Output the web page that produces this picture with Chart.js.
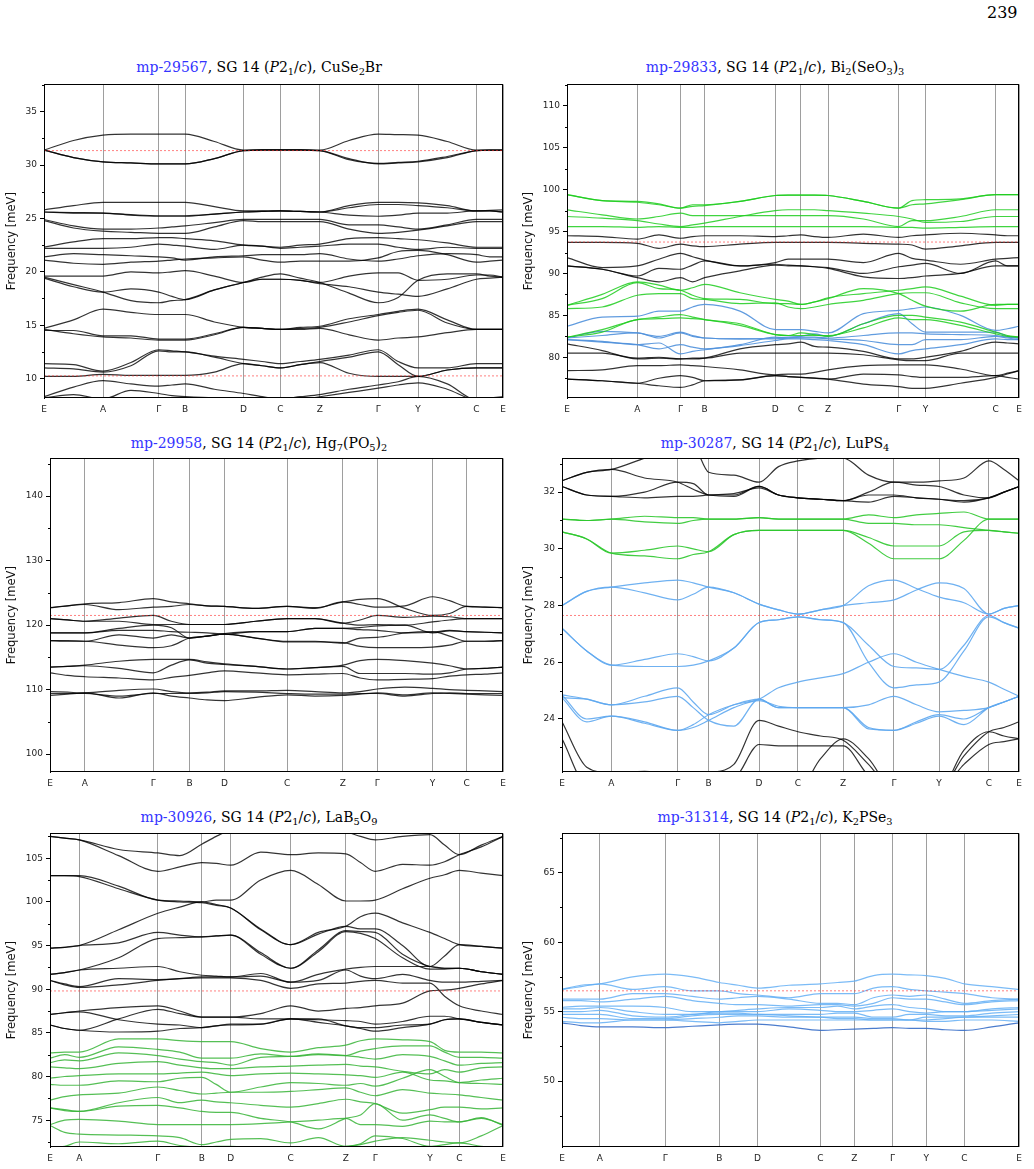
<!DOCTYPE html>
<html>
<head>
<meta charset="utf-8">
<script src="https://cdn.jsdelivr.net/npm/chart.js@4.4.0/dist/chart.umd.min.js"></script>
<style>
  body { margin: 0; background: #fff; }
  #page { position: relative; width: 1034px; height: 1169px; overflow: hidden; background: #fff; }
  canvas { position: absolute; }
  .ttl { position: absolute; width: 520px; text-align: center; font-family: "DejaVu Serif", serif; font-size: 14px; line-height: 16px; color: #000; white-space: nowrap; }
  .ttl .mp { color: #3333ff; }
  .ttl i { font-style: italic; }
  .ttl .sb { font-size: 70%; position: relative; top: 0.35em; }
  #pgnum { position: absolute; left: 987px; top: 4px; font-family: "DejaVu Serif", serif; font-size: 16px; line-height: 18px; }
</style>
</head>
<body>
<div id="page">
  <div id="pgnum">239</div>

  <div class="ttl" style="left:-1px;top:59px"><span class="mp">mp-29567</span>, SG 14 (<i>P</i>2<span class="sb">1</span>/<i>c</i>), CuSe<span class="sb">2</span>Br</div>
  <div class="ttl" style="left:515px;top:59px"><span class="mp">mp-29833</span>, SG 14 (<i>P</i>2<span class="sb">1</span>/<i>c</i>), Bi<span class="sb">2</span>(SeO<span class="sb">3</span>)<span class="sb">3</span></div>
  <div class="ttl" style="left:-1px;top:435px"><span class="mp">mp-29958</span>, SG 14 (<i>P</i>2<span class="sb">1</span>/<i>c</i>), Hg<span class="sb">7</span>(PO<span class="sb">5</span>)<span class="sb">2</span></div>
  <div class="ttl" style="left:515px;top:435px"><span class="mp">mp-30287</span>, SG 14 (<i>P</i>2<span class="sb">1</span>/<i>c</i>), LuPS<span class="sb">4</span></div>
  <div class="ttl" style="left:-1px;top:809px"><span class="mp">mp-30926</span>, SG 14 (<i>P</i>2<span class="sb">1</span>/<i>c</i>), LaB<span class="sb">5</span>O<span class="sb">9</span></div>
  <div class="ttl" style="left:515px;top:809px"><span class="mp">mp-31314</span>, SG 14 (<i>P</i>2<span class="sb">1</span>/<i>c</i>), K<span class="sb">2</span>PSe<span class="sb">3</span></div>

  <canvas id="c1" width="512" height="344" style="left:0px;top:76px"></canvas>
  <canvas id="c2" width="511" height="344" style="left:517px;top:76px"></canvas>
  <canvas id="c3" width="512" height="344" style="left:0px;top:450px"></canvas>
  <canvas id="c4" width="511" height="344" style="left:517px;top:450px"></canvas>
  <canvas id="c5" width="512" height="344" style="left:0px;top:825px"></canvas>
  <canvas id="c6" width="511" height="344" style="left:517px;top:825px"></canvas>
</div>

<script>
// high symmetry path labels (same for every panel)
const kLabels = ['E', 'A', 'Γ', 'B', 'D', 'C', 'Z', 'Γ', 'Y', 'C', 'E'];

// tick positions along the path, fraction of path length
const p1Ticks = [0, 0.1286, 0.25, 0.3075, 0.4346, 0.515, 0.6006, 0.728, 0.8147, 0.9418, 1];
const p2Ticks = [0, 0.1555, 0.251, 0.3044, 0.4606, 0.5175, 0.5774, 0.7336, 0.7927, 0.948, 1];
const p3Ticks = [0, 0.0771, 0.2278, 0.3079, 0.385, 0.5233, 0.6463, 0.722, 0.8443, 0.9192, 1];
const p4Ticks = [0, 0.1081, 0.2531, 0.3208, 0.4311, 0.5162, 0.615, 0.726, 0.8248, 0.9337, 1];
const p5Ticks = [0, 0.0648, 0.238, 0.3348, 0.3988, 0.5313, 0.6528, 0.7176, 0.8384, 0.9032, 1];
const p6Ticks = [0, 0.0829, 0.2257, 0.3439, 0.4275, 0.5652, 0.6395, 0.7231, 0.7967, 0.8803, 1];

// y tick labels
const p1YTicks = [10, 15, 20, 25, 30, 35];
const p2YTicks = [80, 85, 90, 95, 100, 105, 110];
const p3YTicks = [100, 110, 120, 130, 140];
const p4YTicks = [24, 26, 28, 30, 32];
const p5YTicks = [75, 80, 85, 90, 95, 100, 105];
const p6YTicks = [50, 55, 60, 65];

// red dashed reference levels
const p1Ref = [31.35, 10.25];
const p2Ref = [93.75];
const p3Ref = [121.5];
const p4Ref = [27.65];
const p5Ref = [89.8];
const p6Ref = [56.5];

// band frequencies [meV], sampled at each symmetry point and half way between
// order: E . A . Γ . B . D . C . Z . Γ . Y . C . E
const p1Bands = [
  [31.4,32.3,32.8,32.9,32.9,32.9,32.9,32.2,31.4,31.45,31.45,31.45,31.4,32.3,32.9,32.85,32.8,32.2,31.4,31.4,31.4],
  [31.4,30.7,30.3,30.2,30.1,30.1,30.1,30.6,31.35,31.4,31.4,31.4,31.35,30.6,30.1,30.2,30.3,30.7,31.35,31.4,31.4],
  [31.4,30.7,30.3,30.2,30.1,30.1,30.1,30.6,31.35,31.4,31.4,31.4,31.35,30.5,30.15,30.25,30.35,30.8,31.35,31.4,31.4],
  [25.8,26.2,26.5,26.5,26.5,26.5,26.5,26.1,25.7,25.7,25.7,25.65,25.6,26.2,26.5,26.5,26.45,26.2,25.7,25.75,25.8],
  [25.6,25.5,25.5,25.3,25.2,25.2,25.2,25.4,25.6,25.65,25.7,25.65,25.6,25.3,25.2,25.3,25.5,25.5,25.7,25.7,25.6],
  [25.6,25.55,25.5,25.35,25.25,25.25,25.25,25.4,25.6,25.65,25.7,25.65,25.6,26.0,26.3,26.3,26.2,26.0,25.7,25.7,25.6],
  [24.9,24.3,24.0,24.0,24.1,24.2,24.3,24.6,24.9,24.9,24.9,24.9,24.9,24.4,24.4,24.2,24.0,24.4,24.9,24.9,24.9],
  [24.8,24.1,23.8,23.7,23.6,23.6,23.6,24.2,24.8,24.7,24.7,24.7,24.7,24.0,23.6,23.7,23.9,24.3,24.7,24.7,24.7],
  [22.3,22.8,23.1,23.1,23.2,23.2,23.1,22.9,22.5,22.4,22.3,22.5,22.6,23.1,23.2,23.1,23.0,22.7,22.3,22.3,22.3],
  [22.2,22.2,22.2,22.3,22.6,22.5,22.4,22.1,22.5,22.4,22.2,22.3,22.4,22.6,22.6,22.3,22.1,22.3,22.2,22.2,22.2],
  [21.4,21.7,21.6,21.5,21.4,21.3,21.1,21.4,21.5,21.6,21.6,21.6,21.7,21.2,21.0,21.2,21.5,21.7,21.6,21.4,21.4],
  [21.1,20.8,20.7,20.9,21.0,21.1,21.2,21.3,21.4,21.1,20.9,21.0,21.0,21.0,21.3,21.9,22.0,21.6,20.9,21.0,21.1],
  [19.6,19.6,19.6,20.0,19.9,20.0,20.1,19.6,19.0,19.3,19.3,19.2,19.0,19.6,19.9,19.9,19.2,19.3,19.7,19.7,19.5],
  [19.5,18.8,18.1,17.3,17.1,17.3,17.4,18.3,19.0,19.5,19.8,19.4,19.0,18.0,17.1,17.6,19.2,19.8,19.8,19.6,19.5],
  [19.4,18.6,18.1,18.4,18.1,17.7,17.4,18.3,19.0,19.3,19.3,19.2,18.9,18.6,18.1,17.9,17.7,18.4,19.3,19.4,19.5],
  [14.7,15.5,16.5,16.2,16.0,16.0,16.0,15.3,14.8,14.7,14.6,14.8,14.9,15.6,16.0,16.3,16.5,15.5,14.6,14.6,14.6],
  [14.6,14.2,13.9,13.8,13.6,13.6,13.6,14.1,14.8,14.7,14.6,14.6,14.7,14.1,13.6,13.8,13.9,14.3,14.6,14.6,14.6],
  [14.5,14.5,14.0,14.0,13.7,13.7,13.7,14.2,14.8,14.7,14.6,14.7,14.8,15.3,15.9,16.2,16.4,15.2,14.6,14.6,14.6],
  [11.4,11.3,10.7,11.5,12.7,12.6,12.5,12.1,11.8,11.6,11.4,11.6,11.8,12.2,12.7,11.6,11.0,11.0,11.4,11.4,11.4],
  [11.0,10.9,10.6,11.2,12.6,12.5,12.5,12.0,11.4,11.2,11.0,11.3,11.6,12.0,12.5,11.3,10.2,10.8,11.0,11.0,11.0],
  [10.2,10.2,10.4,10.3,10.3,10.3,10.3,10.6,11.4,11.2,11.0,11.3,11.5,10.5,10.2,10.2,10.2,10.8,11.0,11.0,11.0],
  [8.3,9.2,9.8,9.5,9.3,9.4,9.5,9.0,8.6,8.3,8.1,8.3,8.5,9.0,9.4,9.7,10.2,9.5,8.0,8.2,8.3],
  [8.2,8.5,8.1,8.9,8.6,8.4,8.3,8.2,8.2,8.0,7.8,8.0,8.3,8.7,9.1,9.4,9.6,9.0,8.0,8.0,8.2]
];

const p2Green = [
  [99.4,98.7,98.6,98.3,97.8,98.2,98.2,98.6,99.3,99.35,99.35,99.35,99.3,98.6,97.8,98.7,98.8,98.9,99.4,99.4,99.4],
  [99.4,98.7,98.5,98.2,97.8,98.0,98.1,98.6,99.3,99.35,99.35,99.35,99.3,98.6,97.8,98.2,98.3,98.8,99.4,99.4,99.4],
  [97.6,97.0,96.5,96.8,97.2,96.9,96.9,96.9,96.9,96.9,96.9,96.9,96.9,96.5,95.6,96.3,96.3,96.8,97.6,97.6,97.6],
  [96.8,96.6,96.3,95.9,95.6,95.8,96.0,96.8,97.5,97.6,97.6,97.6,97.5,97.2,96.8,96.5,96.1,96.2,96.8,96.8,96.8],
  [95.6,95.6,95.5,95.6,95.5,95.5,95.6,95.6,95.6,95.6,95.6,95.6,95.6,95.6,95.5,95.5,95.4,95.5,95.6,95.6,95.6],
  [86.2,87.5,89.0,88.6,88.0,88.3,88.7,87.7,86.9,86.7,86.3,86.6,87.1,87.6,88.0,88.2,88.4,87.3,86.2,86.3,86.3],
  [85.8,86.0,87.4,87.6,87.6,87.0,86.9,86.4,86.5,86.0,85.8,86.0,86.3,86.8,87.6,87.7,87.7,86.5,85.8,85.8,85.8],
  [86.2,87.0,88.9,88.2,88.0,87.4,87.0,86.9,86.4,86.4,86.3,86.6,87.0,88.2,87.6,86.8,86.1,85.5,86.3,86.3,86.3],
  [82.4,83.3,84.5,84.8,85.1,84.8,84.5,84.0,82.7,82.6,82.9,82.7,82.5,84.0,85.0,85.0,84.8,84.2,83.0,82.6,82.4],
  [82.4,83.0,84.5,84.6,84.7,84.6,84.5,83.8,82.7,82.6,82.6,82.6,82.6,83.5,84.7,84.5,84.5,83.8,82.8,82.5,82.4]
];
const p2Black = [
  [94.5,94.4,94.1,94.6,94.2,94.4,94.5,94.5,94.4,94.5,94.6,94.4,94.3,94.7,94.3,94.5,94.6,94.8,94.6,94.5,94.5],
  [93.7,93.7,93.6,93.0,93.5,93.3,93.2,93.5,93.7,93.7,93.7,93.7,93.7,93.6,93.5,93.4,92.9,93.3,93.7,93.7,93.7],
  [91.9,90.7,90.9,91.7,92.4,92.0,91.6,90.9,91.3,91.7,91.7,91.7,91.7,91.3,92.4,91.8,91.6,91.1,91.7,91.8,91.9],
  [90.9,90.5,89.7,90.6,90.5,91.0,91.5,90.9,91.1,91.0,90.9,90.8,90.7,90.0,90.8,91.0,91.2,90.0,91.5,90.9,90.9],
  [90.9,90.5,89.5,89.0,89.5,89.0,89.5,90.3,91.0,90.9,90.9,90.8,90.6,89.6,89.4,89.5,89.7,90.0,90.9,90.9,90.9],
  [81.6,80.8,79.8,79.9,79.8,79.8,79.9,81.0,81.5,81.6,81.8,81.3,81.2,80.7,79.8,79.8,80.0,80.7,81.8,81.7,81.6],
  [80.5,80.5,79.9,80.0,79.8,79.9,79.9,80.5,80.5,80.5,80.5,80.5,80.5,80.3,79.7,79.6,79.6,80.5,80.5,80.5,80.5],
  [78.4,78.5,79.0,79.0,79.1,79.0,78.9,78.5,77.9,78.0,78.0,78.2,78.5,79.0,79.1,79.1,79.1,78.6,77.8,78.1,78.4],
  [77.4,77.2,76.9,77.5,77.8,77.6,77.2,77.3,77.8,77.7,77.6,77.5,77.4,78.0,77.9,77.7,77.6,77.6,77.8,77.6,77.4],
  [77.4,77.2,76.9,76.6,76.4,76.7,77.2,77.3,77.8,77.7,77.6,77.5,77.4,76.8,76.5,76.3,76.3,76.9,77.6,78.0,78.4]
];
const p2Blue = [
  [83.7,84.8,84.9,85.5,85.5,86.0,86.3,85.5,83.3,83.3,83.3,83.1,82.9,85.2,85.6,85.8,86.0,85.0,83.2,83.4,83.7],
  [82.3,83.1,82.9,82.5,83.0,82.6,82.3,82.2,82.3,82.4,82.5,82.8,82.5,84.0,85.2,84.0,83.0,83.0,83.0,82.5,82.3],
  [82.1,81.8,81.5,81.0,81.5,81.2,81.0,81.5,82.4,82.3,82.3,82.3,82.2,82.0,81.5,81.5,82.1,82.1,82.5,82.3,82.1],
  [82.1,81.9,81.5,81.7,80.4,80.7,80.9,81.4,82.0,82.2,82.2,82.1,82.0,81.5,80.4,80.8,81.0,81.5,82.2,82.1,82.1],
  [82.3,82.6,82.9,82.3,82.9,82.5,82.3,82.2,82.2,82.3,82.4,82.4,82.3,82.6,82.9,82.9,82.8,82.7,82.6,82.4,82.3]
];

const p3Bands = [
  [122.7,123.0,123.2,122.4,122.8,122.9,123.2,123.0,122.9,122.6,122.9,122.6,123.6,123.2,122.8,123.0,124.4,123.8,122.9,122.8,122.7],
  [122.7,123.0,123.3,123.5,124.1,123.6,123.3,123.0,122.9,122.6,122.9,122.7,123.6,124.0,124.1,122.6,121.5,121.8,122.9,122.8,122.7],
  [121.0,120.8,120.6,121.1,121.5,120.6,120.1,120.1,120.1,120.6,121.0,121.0,120.3,120.8,121.5,121.2,121.4,121.3,121.0,121.0,121.0],
  [121.0,120.8,120.6,120.6,120.1,120.1,120.1,120.1,120.1,120.6,121.0,121.0,120.3,120.0,120.1,120.0,120.5,120.8,121.0,121.0,121.0],
  [118.8,118.8,118.8,119.2,119.2,119.0,118.9,118.8,118.6,119.0,119.0,119.5,119.5,119.6,119.9,120.0,118.8,119.1,119.0,118.9,118.8],
  [118.8,118.8,118.8,119.5,120.0,119.6,118.0,118.3,118.7,119.0,119.0,119.5,119.5,119.3,119.2,118.8,118.9,119.2,119.0,118.9,118.8],
  [117.6,117.6,117.5,118.5,118.0,118.5,118.0,118.3,118.6,118.0,117.5,117.5,117.2,118.0,118.1,118.8,119.0,118.3,117.5,117.5,117.6],
  [117.6,117.5,117.5,116.9,116.5,116.8,118.0,118.3,118.6,118.0,117.4,117.4,117.3,116.7,116.5,116.5,116.6,116.9,117.5,117.5,117.6],
  [113.5,113.6,113.8,114.4,114.7,114.7,114.7,114.3,114.0,113.6,113.2,113.4,113.8,114.5,114.7,114.5,114.1,113.7,113.2,113.3,113.5],
  [113.5,113.6,113.7,113.3,112.6,113.8,114.6,114.1,113.9,113.6,113.2,113.4,113.6,112.5,112.5,112.5,112.4,112.6,113.2,113.3,113.5],
  [112.6,112.2,112.0,111.8,111.5,111.9,112.2,112.6,112.9,112.6,112.3,112.4,112.5,111.8,111.5,111.6,111.7,112.1,112.3,112.4,112.6],
  [109.7,109.6,109.5,109.9,110.1,109.7,109.5,109.6,109.8,109.8,109.9,109.7,109.5,109.7,110.1,110.4,110.2,110.0,109.9,109.8,109.7],
  [109.1,109.3,109.5,108.7,109.5,109.0,108.7,108.4,108.3,108.8,109.2,109.0,109.1,109.3,109.5,109.2,109.5,109.4,109.3,109.2,109.1],
  [109.4,109.4,109.4,109.0,109.4,109.4,109.4,109.5,109.7,109.6,109.4,109.3,109.3,109.4,109.4,109.0,109.4,109.5,109.4,109.4,109.4]
];

const p4Black = [
  [32.4,32.7,32.8,33.2,33.6,33.6,32.7,32.6,32.35,32.9,33.1,33.2,33.2,32.6,32.35,32.35,32.4,32.5,33.1,32.8,32.4],
  [32.4,32.7,32.8,32.5,32.35,32.1,31.9,31.85,32.2,31.9,31.8,31.75,31.7,32.0,32.35,32.25,32.2,31.9,31.8,32.0,32.2],
  [32.2,31.9,31.85,32.0,32.35,32.3,31.9,31.9,32.2,31.9,31.8,31.75,31.7,31.9,31.9,31.8,31.75,31.7,31.8,32.0,32.2],
  [32.2,31.9,31.85,31.8,31.85,31.85,31.9,31.95,32.15,31.9,31.8,31.75,31.7,31.65,31.85,31.8,31.75,31.65,31.8,32.0,32.2],
  [23.9,22.3,22.1,22.15,22.0,22.0,22.1,22.4,23.95,23.75,23.55,23.4,23.25,22.4,21.5,21.5,21.5,22.7,23.55,23.7,23.9],
  [23.3,21.7,21.8,21.8,21.8,21.8,21.8,21.9,23.1,23.05,23.05,23.05,23.05,22.0,21.5,21.5,21.5,22.4,23.1,23.2,23.3],
  [21.5,21.5,21.5,21.5,21.5,21.5,21.5,21.5,21.5,21.5,21.5,22.6,23.3,22.6,21.5,21.5,21.5,22.9,23.55,23.4,23.3]
];
const p4Green = [
  [31.05,31.0,31.05,31.15,31.1,31.1,31.05,31.05,31.1,31.05,31.05,31.05,31.05,31.2,31.1,31.2,31.25,31.3,31.05,31.05,31.05],
  [31.05,31.0,31.05,30.95,30.9,31.0,31.05,31.05,31.1,31.05,31.05,31.05,31.05,30.9,30.9,30.85,30.85,30.75,30.65,30.6,30.55],
  [30.6,30.35,29.85,29.95,30.1,30.0,29.9,30.5,30.65,30.65,30.65,30.65,30.65,30.4,30.1,30.1,30.1,30.6,30.65,30.6,30.55],
  [30.6,30.35,29.85,29.75,29.65,29.8,29.9,30.5,30.65,30.65,30.65,30.65,30.65,30.2,29.65,29.65,29.65,30.3,31.05,31.05,31.05]
];
const p4Blue = [
  [28.0,28.5,28.65,28.8,28.9,28.8,28.65,28.45,28.05,27.85,27.7,27.85,28.0,28.7,28.9,28.6,28.3,28.1,27.7,27.9,28.0],
  [28.0,28.5,28.65,28.45,28.2,28.4,28.65,28.45,28.05,27.85,27.7,27.85,28.0,28.1,28.2,28.55,28.8,28.6,27.7,27.9,28.0],
  [27.2,26.4,25.9,26.1,26.3,26.2,26.05,26.5,27.4,27.5,27.6,27.5,27.4,26.0,25.1,25.2,25.3,26.4,27.6,27.4,27.2],
  [27.2,26.4,25.9,25.85,25.85,25.9,26.05,26.5,27.4,27.5,27.6,27.5,27.4,26.6,25.85,25.8,25.75,26.6,27.65,27.4,27.2],
  [24.85,24.7,24.5,24.8,25.1,24.6,24.15,24.5,24.7,25.1,25.3,25.45,25.6,26.0,26.3,26.0,25.75,25.5,25.3,25.05,24.8],
  [24.75,24.7,24.5,24.6,24.8,24.4,23.95,23.75,24.7,24.4,24.4,24.4,24.4,24.5,24.8,24.5,24.25,24.3,24.4,24.6,24.8],
  [24.75,23.9,24.1,23.85,23.6,23.8,24.15,24.5,24.7,24.4,24.4,24.4,24.4,23.7,23.6,23.85,24.1,23.8,24.4,24.6,24.8],
  [24.85,24.0,24.1,23.9,23.6,23.7,23.95,24.4,24.65,24.45,24.4,24.4,24.4,23.65,23.6,23.9,24.15,24.0,24.4,24.6,24.8]
];

const p5Black = [
  [107.5,107.3,107.1,106.0,105.6,105.3,106.6,107.5,108.2,108.5,108.5,108.3,108.0,107.5,107.1,107.5,107.7,106.5,105.4,106.5,107.5],
  [107.5,107.3,107.1,105.3,103.5,104.0,104.5,104.4,104.2,105.7,105.4,105.6,105.5,104.5,103.5,104.3,104.2,104.6,105.4,106.3,107.5],
  [103.0,103.0,103.0,101.8,100.2,100.1,100.0,100.2,100.2,102.5,103.6,102.0,100.1,100.1,100.2,101.5,102.7,103.1,103.6,103.3,103.0],
  [103.0,103.0,102.9,101.5,100.2,100.0,99.9,99.6,99.3,96.8,95.1,96.5,97.2,98.3,98.7,97.6,96.5,95.8,95.1,94.9,94.7],
  [94.7,94.8,95.0,96.8,98.7,99.4,100.0,99.7,99.3,96.9,95.1,96.3,97.2,96.9,96.9,95.0,92.6,93.8,95.1,94.9,94.7],
  [94.7,94.8,95.0,95.3,96.5,96.2,96.0,96.1,96.2,94.0,92.4,94.5,96.7,96.6,96.5,94.0,92.6,92.4,92.4,92.0,91.7],
  [91.7,91.9,92.2,93.6,95.8,95.9,96.0,96.1,96.2,94.2,92.4,94.3,96.6,96.4,95.8,93.6,92.3,92.3,92.4,92.0,91.7],
  [91.7,91.9,92.2,92.4,92.6,92.0,91.6,91.5,91.4,91.8,90.8,91.7,92.3,92.5,92.6,92.6,92.6,92.4,92.4,92.0,91.7],
  [91.0,90.6,90.3,91.2,91.1,91.2,91.4,91.4,91.4,91.5,90.8,91.0,92.2,91.5,91.2,91.7,91.0,90.8,90.8,90.9,91.0],
  [91.0,90.5,90.2,90.5,91.0,91.2,91.3,91.3,91.3,91.0,90.1,90.6,90.7,90.9,91.0,90.7,90.7,89.2,88.1,87.5,87.1],
  [87.1,87.3,87.5,87.9,88.1,87.5,86.8,86.8,86.8,87.2,88.1,87.5,87.8,87.9,88.1,88.4,89.8,89.9,90.1,90.6,91.0],
  [87.1,87.3,87.4,86.5,86.0,85.9,85.6,85.8,86.0,86.0,86.6,86.5,86.4,86.3,86.0,86.3,86.9,86.9,86.6,86.2,85.9],
  [85.9,85.5,85.3,86.6,87.7,87.2,86.8,86.8,86.8,86.6,86.6,86.6,85.8,85.6,85.6,85.9,86.0,86.5,86.6,86.2,85.9],
  [85.9,85.5,85.3,85.1,85.2,85.5,85.6,85.8,85.9,86.0,86.6,86.2,85.8,85.5,85.2,85.6,86.0,86.5,86.6,86.2,85.9]
];
const p5Green = [
  [82.7,82.8,82.8,84.3,84.3,84.1,84.0,84.0,84.0,83.2,82.8,83.3,83.6,84.1,84.3,84.2,84.0,83.0,82.8,82.8,82.7],
  [82.1,82.5,82.2,83.4,83.1,82.8,82.1,82.1,82.1,82.6,82.3,82.5,82.4,82.9,83.2,83.5,83.5,82.8,82.2,82.2,82.1],
  [81.6,81.9,81.8,82.7,82.4,82.0,81.7,81.6,81.3,82.2,82.3,82.6,82.4,82.2,82.0,82.5,82.3,81.8,81.3,81.5,81.6],
  [81.1,81.0,80.9,81.5,81.7,81.3,81.0,80.9,80.9,81.1,81.2,81.3,81.4,81.2,81.1,80.6,80.3,80.8,80.5,81.0,81.1],
  [79.8,80.0,80.1,80.3,80.3,80.4,80.5,80.3,80.1,80.3,80.4,80.3,80.2,80.1,79.9,80.5,79.6,79.5,79.3,79.6,79.8],
  [79.1,79.0,79.0,79.5,79.4,79.8,79.9,79.1,78.2,78.8,79.3,79.2,79.0,79.2,78.9,79.8,80.8,80.0,79.3,79.2,79.1],
  [77.3,77.7,77.9,78.1,78.8,78.4,78.0,78.1,78.2,78.2,78.3,78.5,78.7,78.2,77.8,78.5,78.1,78.0,77.9,77.6,77.3],
  [76.4,76.2,76.0,77.0,77.6,77.0,77.3,77.1,77.0,76.7,76.5,76.9,77.4,77.1,76.9,75.8,76.2,76.5,76.5,76.3,76.4],
  [76.4,76.1,76.0,76.6,76.7,76.4,76.0,75.9,75.9,75.2,74.8,74.0,75.2,75.6,76.9,75.0,75.6,75.2,74.8,75.2,74.5],
  [74.5,75.0,75.1,74.9,74.5,74.5,74.5,74.5,74.5,74.6,74.8,75.0,75.2,74.5,74.5,74.3,74.9,74.8,74.8,75.3,74.4],
  [74.4,73.6,73.4,73.3,73.2,73.0,72.2,72.5,72.8,72.9,72.4,73.0,72.0,72.2,72.6,73.0,72.7,72.5,72.4,73.2,74.4],
  [71.8,72.0,72.5,72.3,72.6,72.1,71.9,72.0,72.0,71.8,71.8,71.9,72.0,72.3,73.2,72.9,72.0,72.2,72.4,72.0,71.8]
];

const p6Blue = [
  [56.6,56.9,57.0,57.5,57.7,57.5,57.1,56.9,56.7,56.9,57.0,57.1,57.2,57.6,57.7,57.65,57.6,57.4,57.0,56.8,56.6],
  [56.6,56.8,57.0,56.6,56.8,56.5,56.5,56.3,56.2,56.0,56.3,56.3,56.3,56.7,56.8,56.6,56.5,56.4,56.3,56.0,55.9],
  [55.9,55.9,55.9,56.3,56.3,56.1,55.9,56.0,56.1,55.9,55.6,55.6,55.5,56.0,56.2,56.1,56.2,55.9,55.6,55.8,55.9],
  [55.8,55.8,55.7,55.9,56.1,55.8,55.6,55.5,55.5,55.4,55.5,55.5,55.4,55.6,56.0,55.9,55.9,55.7,55.5,55.7,55.8],
  [55.3,55.4,55.4,55.4,55.3,55.0,55.0,55.1,55.2,55.3,55.3,55.4,55.2,55.4,55.5,55.3,55.2,55.0,55.0,55.2,55.3],
  [55.2,55.2,55.3,55.0,54.8,54.8,55.0,55.0,55.0,55.2,55.1,55.0,55.0,55.1,55.2,55.0,54.9,55.0,55.0,55.1,55.2],
  [55.0,55.0,55.1,54.7,54.6,54.8,54.9,54.9,54.8,54.8,54.8,54.9,54.9,54.6,54.6,54.8,54.8,54.7,54.7,54.9,55.0],
  [54.8,54.8,54.8,54.5,54.5,54.7,54.8,54.8,54.8,54.7,54.6,54.6,54.6,54.5,54.5,54.4,54.6,54.6,54.6,54.7,54.8],
  [54.6,54.5,54.5,54.4,54.4,54.5,54.6,54.7,54.7,54.6,54.6,54.5,54.5,54.4,54.4,54.4,54.4,54.5,54.6,54.6,54.6],
  [54.3,54.2,54.2,54.4,54.4,54.3,54.2,54.3,54.4,54.4,54.4,54.4,54.4,54.4,54.4,54.4,54.3,54.3,54.4,54.4,54.3]
];
const p6Dark = [
  [54.2,54.0,53.9,53.9,53.85,53.95,54.05,54.1,54.1,53.9,53.65,53.7,53.75,53.8,53.85,53.8,53.8,53.7,53.65,53.9,54.2]
];


// sample x positions: every tick plus the point half way to the next one
function sampleX(ticks) {
    const xs = [];
    ticks.forEach((t, i) => {
        xs.push(t);
        if (i < ticks.length - 1) xs.push((t + ticks[i + 1]) / 2);
    });
    return xs;
}

function bandSets(bands, ticks, color) {
    const xs = sampleX(ticks);
    return bands.map(b => ({
        data: b.map((y, i) => ({ x: xs[i], y: y })),
        borderColor: color,
        borderWidth: 1.2,
        pointRadius: 0,
        fill: false,
        cubicInterpolationMode: 'monotone'
    }));
}

function refSets(levels) {
    return levels.map(v => ({
        data: [{ x: 0, y: v }, { x: 1, y: v }],
        borderColor: 'rgba(255,40,40,0.85)',
        borderWidth: 0.7,
        borderDash: [2, 2],
        pointRadius: 0,
        order: -1
    }));
}

// black frame around plot area
const framePlugin = {
    id: 'frame',
    afterDraw(chart) {
        const a = chart.chartArea, ctx = chart.ctx;
        ctx.save();
        ctx.strokeStyle = '#000';
        ctx.lineWidth = 1;
        ctx.strokeRect(Math.round(a.left) + 0.5, Math.round(a.top) + 0.5,
            Math.round(a.right - a.left) - 1, Math.round(a.bottom - a.top) - 1);
        ctx.restore();
    }
};

// small minor ticks on the y axis
const minorPlugin = {
    id: 'minorTicks',
    afterDraw(chart, args, opts) {
        const y = chart.scales.y, ctx = chart.ctx;
        const step = opts.step;
        const left = Math.round(chart.chartArea.left);
        ctx.save();
        ctx.strokeStyle = '#000';
        ctx.lineWidth = 1;
        for (let v = Math.ceil(y.min / step) * step; v <= y.max; v += step) {
            if (Math.abs(v / (step * 2) - Math.round(v / (step * 2))) < 1e-6) continue; // major
            const py = Math.round(y.getPixelForValue(v)) + 0.5;
            ctx.beginPath();
            ctx.moveTo(left - 2, py);
            ctx.lineTo(left, py);
            ctx.stroke();
        }
        ctx.restore();
    }
};

function makePanel(id, ticks, yMin, yMax, yTicks, minorStep, yWidth, datasets) {
    const ctx = document.getElementById(id).getContext('2d');
    return new Chart(ctx, {
        type: 'line',
        data: { datasets: datasets },
        options: {
            responsive: false,
            animation: false,
            devicePixelRatio: 1,
            layout: { padding: { top: 6, right: 4, left: 0, bottom: 0 } },
            plugins: {
                legend: { display: false },
                tooltip: { enabled: false },
                minorTicks: { step: minorStep }
            },
            scales: {
                x: {
                    type: 'linear',
                    min: 0,
                    max: 1,
                    afterBuildTicks: s => { s.ticks = ticks.map(v => ({ value: v })); },
                    afterFit: s => { s.height = 22; },
                    ticks: {
                        autoSkip: false,
                        maxRotation: 0,
                        padding: 6,
                        color: '#222',
                        font: { family: 'DejaVu Sans', size: 9 },
                        callback: (v, i) => kLabels[i]
                    },
                    grid: { color: 'rgba(0,0,0,0.38)', lineWidth: 1, drawTicks: false },
                    border: { display: false }
                },
                y: {
                    min: yMin,
                    max: yMax,
                    afterBuildTicks: s => { s.ticks = yTicks.map(v => ({ value: v })); },
                    afterFit: s => { s.width = yWidth; },
                    ticks: {
                        padding: 3,
                        color: '#222',
                        font: { family: 'DejaVu Sans', size: 9 }
                    },
                    grid: { drawOnChartArea: false, drawTicks: true, tickLength: 4, color: '#000' },
                    border: { color: '#000' },
                    title: {
                        display: true,
                        text: 'Frequency [meV]',
                        color: '#111',
                        padding: { top: 5, bottom: 0 },
                        font: { family: 'DejaVu Sans', size: 11.5 }
                    }
                }
            }
        },
        plugins: [framePlugin, minorPlugin]
    });
}

const BLACK = 'rgba(0,0,0,0.8)';

makePanel('c1', p1Ticks, 8.18, 37.55, p1YTicks, 2.5, 44,
    refSets(p1Ref).concat(bandSets(p1Bands, p1Ticks, BLACK)));

makePanel('c2', p2Ticks, 75.14, 112.56, p2YTicks, 2.5, 50,
    refSets(p2Ref)
        .concat(bandSets(p2Green, p2Ticks, 'rgba(30,205,30,0.85)'))
        .concat(bandSets(p2Black, p2Ticks, BLACK))
        .concat(bandSets(p2Blue, p2Ticks, 'rgba(80,145,220,0.9)')));

makePanel('c3', p3Ticks, 97.23, 145.85, p3YTicks, 5, 50,
    refSets(p3Ref).concat(bandSets(p3Bands, p3Ticks, BLACK)));

makePanel('c4', p4Ticks, 22.13, 33.19, p4YTicks, 1, 45,
    refSets(p4Ref)
        .concat(bandSets(p4Black, p4Ticks, BLACK))
        .concat(bandSets(p4Green, p4Ticks, 'rgba(45,200,45,0.9)'))
        .concat(bandSets(p4Blue, p4Ticks, 'rgba(95,168,240,0.9)')));

makePanel('c5', p5Ticks, 71.93, 107.84, p5YTicks, 2.5, 50,
    refSets(p5Ref)
        .concat(bandSets(p5Black, p5Ticks, BLACK))
        .concat(bandSets(p5Green, p5Ticks, 'rgba(55,180,55,0.85)')));

makePanel('c6', p6Ticks, 45.26, 67.83, p6YTicks, 2.5, 45,
    refSets(p6Ref)
        .concat(bandSets(p6Dark, p6Ticks, 'rgba(55,110,200,0.9)'))
        .concat(bandSets(p6Blue, p6Ticks, 'rgba(100,175,245,0.85)')));
</script>
</body>
</html>
